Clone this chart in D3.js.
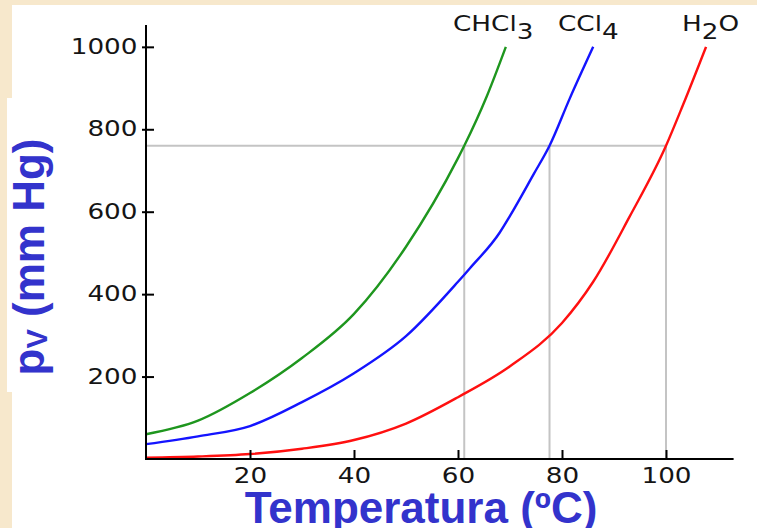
<!DOCTYPE html>
<html>
<head>
<meta charset="utf-8">
<script src="https://cdn.jsdelivr.net/npm/d3@7"></script>
<style>
  html, body { margin: 0; padding: 0; background: #f7e8cc; }
  svg { display: block; }
</style>
</head>
<body>
<svg id="chart" width="757" height="528"></svg>
<script>
// vapour pressure curves (temperature in ºC, pressure in mm Hg)
const chcl3Temp = [0, 10, 20, 30, 40, 50, 60, 61.2, 65.5, 69.2];
const chcl3Pres = [60, 93, 160, 245, 352, 515, 730, 760, 879, 1000];

const ccl4Temp = [0, 10, 20, 30, 40, 50, 60, 62.3, 68, 70, 74.5, 77.6, 81.5, 86];
const ccl4Pres = [36, 55, 80, 138, 208, 298, 430, 463, 549, 590, 690, 760, 875, 1000];

const h2oTemp = [0, 10, 20, 30, 40, 50, 60, 70, 80, 86, 93, 100, 103.3, 107.7];
const h2oPres = [3, 6, 12, 25, 46, 86, 150, 225, 330, 430, 588, 760, 860, 1000];

// boiling points at 760 mm Hg
const boilTemps = [61.2, 77.6, 100];
const atmPressure = 760;

const xTicks = [20, 40, 60, 80, 100];
const yTicks = [200, 400, 600, 800, 1000];

const seriesNames = ['CHCl3', 'CCl4', 'H2O'];

const svg = d3.select('#chart');

// page background + white panels
svg.append('rect')
  .attr('width', 757).attr('height', 528)
  .style('fill', '#f7e8cc');
svg.append('rect')
  .attr('x', 12).attr('y', 5)
  .attr('width', 745).attr('height', 523)
  .style('fill', '#fff');
svg.append('rect')
  .attr('x', 7).attr('y', 98)
  .attr('width', 80).attr('height', 294)
  .style('fill', '#fff');

const x = d3.scaleLinear().domain([0, 113]).range([146, 733.6]);
const y = d3.scaleLinear().domain([0, 1053]).range([459, 25]);

// reference lines for the normal boiling points
const guides = svg.append('g').attr('class', 'guides')
  .style('stroke', '#c4c4c4')
  .style('stroke-width', 2)
  .style('fill', 'none');

guides.append('line')
  .attr('x1', x(0)).attr('x2', x(d3.max(boilTemps)))
  .attr('y1', y(atmPressure)).attr('y2', y(atmPressure));

guides.selectAll('.vguide').data(boilTemps).enter().append('line')
  .attr('class', 'vguide')
  .attr('x1', d => x(d)).attr('x2', d => x(d))
  .attr('y1', y(atmPressure)).attr('y2', y(0));

// curves
const series = [
  { name: seriesNames[0], temps: chcl3Temp, pres: chcl3Pres, color: '#1e961e' },
  { name: seriesNames[1], temps: ccl4Temp, pres: ccl4Pres, color: '#1414ff' },
  { name: seriesNames[2], temps: h2oTemp, pres: h2oPres, color: '#ff1010' },
];

const line = d3.line()
  .x(d => x(d[0]))
  .y(d => y(d[1]))
  .curve(d3.curveMonotoneX);

svg.append('g').attr('class', 'curves')
  .selectAll('path').data(series).enter().append('path')
  .attr('d', d => line(d.temps.map((t, i) => [t, d.pres[i]])))
  .style('fill', 'none')
  .style('stroke', d => d.color)
  .style('stroke-width', 2.4)
  .style('stroke-linejoin', 'round');

// axes
const tickFont = 'DejaVu Sans, Verdana, sans-serif';
const stretch = 1.25;

const xAxis = svg.append('g')
  .attr('transform', `translate(0,${y(0)})`)
  .call(d3.axisBottom(x).tickValues(xTicks).tickFormat(d3.format('d'))
    .tickSizeInner(-9).tickSizeOuter(0).tickPadding(9));

const yAxis = svg.append('g')
  .attr('transform', `translate(${x(0)},0)`)
  .call(d3.axisLeft(y).tickValues(yTicks).tickFormat(d3.format('d'))
    .tickSizeInner(4).tickSizeOuter(0).tickPadding(0));

[xAxis, yAxis].forEach(ax => {
  ax.select('.domain').style('stroke', '#000').style('stroke-width', 2);
  ax.selectAll('.tick line').style('stroke', '#000').style('stroke-width', 2);
  ax.selectAll('.tick text')
    .style('font-family', tickFont)
    .style('font-size', '21px')
    .style('fill', '#151515');
});

// y axis line runs to the top of the domain, x axis overshoots at the right
yAxis.select('.domain').attr('d', `M0,${y(0) + 1}V${y(1053)}`);
xAxis.select('.domain').attr('d', `M${x(0) - 1},0H${x(113)}`);

xAxis.selectAll('.tick line').attr('y2', -9).attr('y1', 1);
xAxis.selectAll('.tick text').attr('transform', `scale(${stretch},1)`);

yAxis.selectAll('.tick line').attr('x1', 8).attr('x2', -4);
yAxis.selectAll('.tick text')
  .attr('x', -8.5 / stretch)
  .attr('transform', `scale(${stretch},1)`);

// formula labels at the top of each curve
const formulaLabels = [
  { x: 453, parts: [['CHCl', 0], ['3', 8]] },
  { x: 558, parts: [['CCl', 0], ['4', 8]] },
  { x: 682, parts: [['H', 0], ['2', 8], ['O', 0]] },
];

formulaLabels.forEach(lbl => {
  const t = svg.append('g')
    .attr('transform', `translate(${lbl.x},30.5) scale(${stretch},1)`)
    .append('text')
    .style('font-family', tickFont)
    .style('font-size', '21px')
    .style('fill', '#151515');
  let prev = 0;
  lbl.parts.forEach(([txt, shift]) => {
    t.append('tspan').attr('dy', shift - prev).text(txt);
    prev = shift;
  });
});

// axis titles
const titleColor = '#3333cc';

const yTitle = svg.append('text')
  .attr('transform', 'translate(44,257) rotate(-90)')
  .attr('text-anchor', 'middle')
  .style('font-family', 'Liberation Sans, Arial, sans-serif')
  .style('font-weight', 'bold')
  .style('font-size', '44px')
  .style('fill', titleColor);
yTitle.append('tspan').text('p');
yTitle.append('tspan').attr('dy', 3).style('font-size', '29px').text('V');
yTitle.append('tspan').attr('dy', -3).text(' (mm Hg)');

svg.append('text')
  .attr('x', 421).attr('y', 523)
  .attr('text-anchor', 'middle')
  .style('font-family', 'Liberation Sans, Arial, sans-serif')
  .style('font-weight', 'bold')
  .style('font-size', '44px')
  .style('fill', titleColor)
  .text('Temperatura (ºC)');
</script>
</body>
</html>
